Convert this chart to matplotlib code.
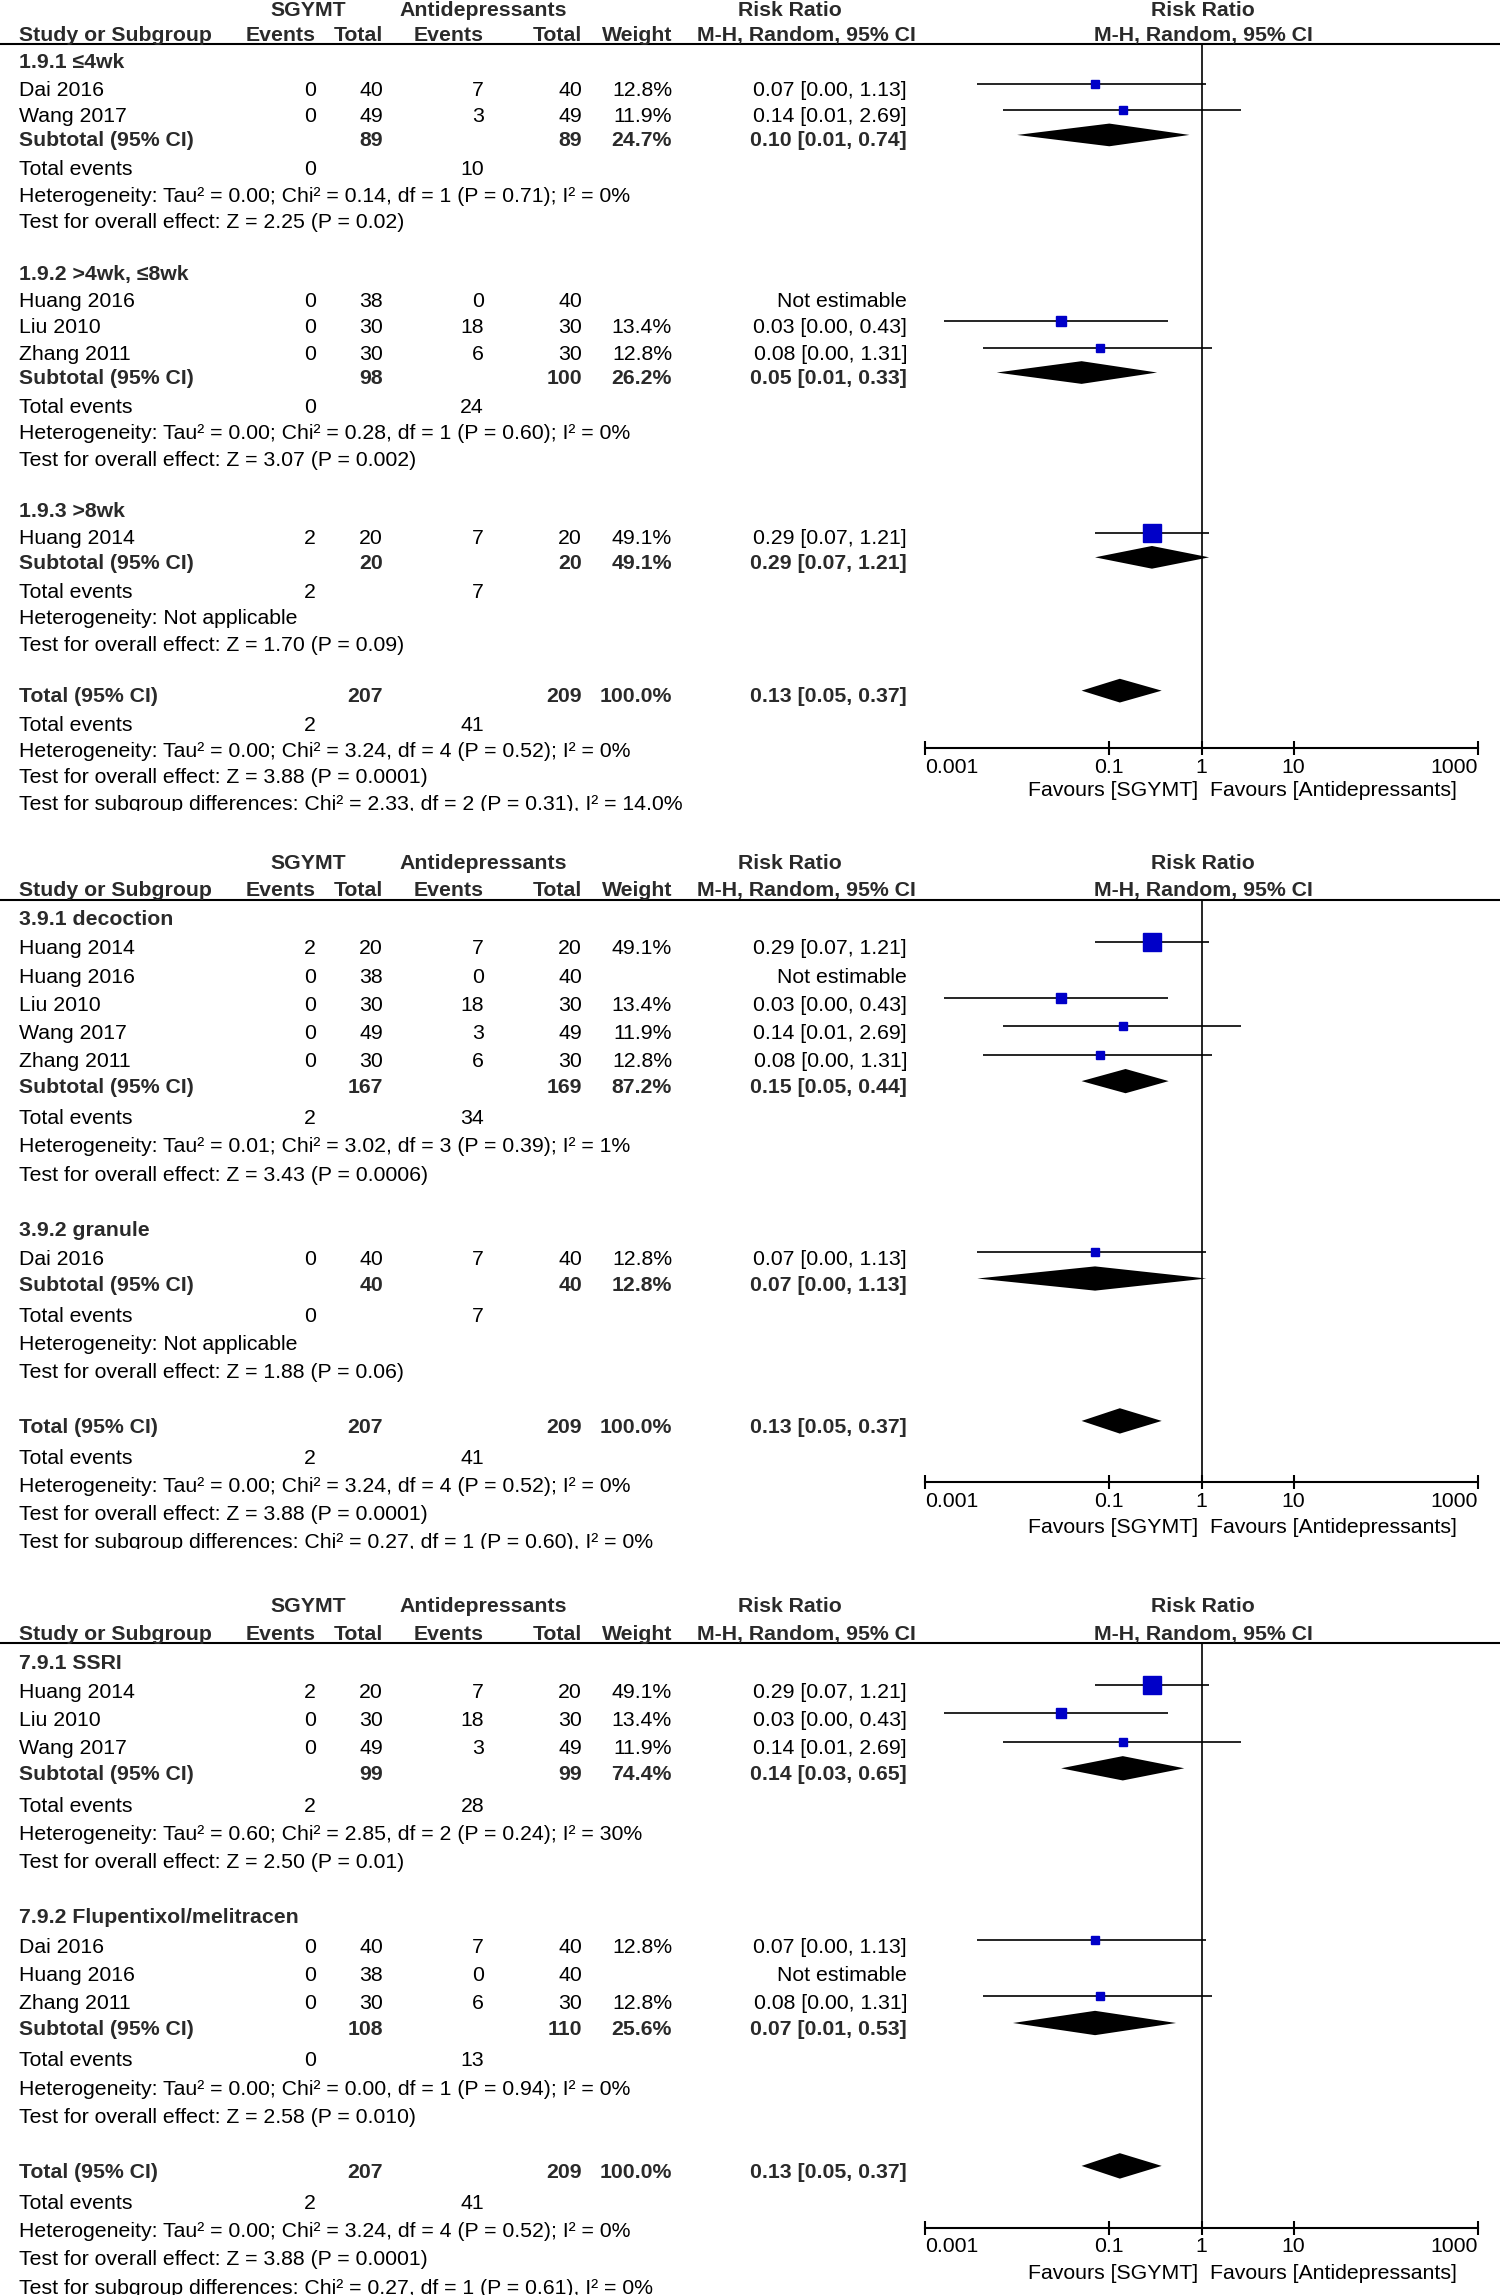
import numpy as np
import matplotlib
matplotlib.use('Agg')
import matplotlib.pyplot as plt

plt.rcParams['font.family'] = ['Liberation Sans', 'DejaVu Sans']

# ---- studies ----
study = ['Dai 2016', 'Huang 2014', 'Huang 2016', 'Liu 2010', 'Wang 2017', 'Zhang 2011']
sg_events = [0, 2, 0, 0, 0, 0]
sg_total = [40, 20, 38, 30, 49, 30]
ad_events = [7, 7, 0, 18, 3, 6]
ad_total = [40, 20, 40, 30, 49, 30]
weight = [12.8, 49.1, None, 13.4, 11.9, 12.8]
rr = [0.07, 0.29, None, 0.03, 0.14, 0.08]
rr_lo = [0.0037, 0.07, None, 0.0016, 0.007, 0.0043]
rr_hi = [1.13, 1.21, None, 0.43, 2.69, 1.31]

# ---- overall pooled ----
total_rr, total_lo, total_hi = 0.13, 0.05, 0.37
total_het = 'Tau² = 0.00; Chi² = 3.24, df = 4 (P = 0.52); I² = 0%'
total_z = 'Z = 3.88 (P = 0.0001)'

# ---- panel 1: duration ----
p1_groups = ['1.9.1 ≤4wk', '1.9.2 >4wk, ≤8wk', '1.9.3 >8wk']
p1_members = [[0, 4], [2, 3, 5], [1]]
p1_rr = [0.10, 0.05, 0.29]
p1_lo = [0.01, 0.006, 0.07]
p1_hi = [0.74, 0.33, 1.21]
p1_het = ['Tau² = 0.00; Chi² = 0.14, df = 1 (P = 0.71); I² = 0%',
          'Tau² = 0.00; Chi² = 0.28, df = 1 (P = 0.60); I² = 0%',
          'Not applicable']
p1_z = ['Z = 2.25 (P = 0.02)', 'Z = 3.07 (P = 0.002)', 'Z = 1.70 (P = 0.09)']
p1_diff = 'Chi² = 2.33, df = 2 (P = 0.31), I² = 14.0%'

# ---- panel 2: formulation ----
p2_groups = ['3.9.1 decoction', '3.9.2 granule']
p2_members = [[1, 2, 3, 4, 5], [0]]
p2_rr = [0.15, 0.07]
p2_lo = [0.05, 0.0037]
p2_hi = [0.44, 1.13]
p2_het = ['Tau² = 0.01; Chi² = 3.02, df = 3 (P = 0.39); I² = 1%', 'Not applicable']
p2_z = ['Z = 3.43 (P = 0.0006)', 'Z = 1.88 (P = 0.06)']
p2_diff = 'Chi² = 0.27, df = 1 (P = 0.60), I² = 0%'

# ---- panel 3: comparator ----
p3_groups = ['7.9.1 SSRI', '7.9.2 Flupentixol/melitracen']
p3_members = [[1, 3, 4], [0, 2, 5]]
p3_rr = [0.14, 0.07]
p3_lo = [0.03, 0.009]
p3_hi = [0.65, 0.53]
p3_het = ['Tau² = 0.60; Chi² = 2.85, df = 2 (P = 0.24); I² = 30%',
          'Tau² = 0.00; Chi² = 0.00, df = 1 (P = 0.94); I² = 0%']
p3_z = ['Z = 2.50 (P = 0.01)', 'Z = 2.58 (P = 0.010)']
p3_diff = 'Chi² = 0.27, df = 1 (P = 0.61), I² = 0%'

axis_ticks = [0.001, 0.1, 1, 10, 1000]
axis_labels = ['0.001', '0.1', '1', '10', '1000']

W, H = 1500, 2295
FS = 15.3
BOLD_C = '#2a2a2a'
SQ_C = '#0000C8'
fig = plt.figure(figsize=(W / 100, H / 100), dpi=100)

# column anchors (px)
X_NAME, X_SGE, X_SGT, X_ADE, X_ADT, X_WT, X_CI = 19, 316, 383, 484, 582, 672, 907
FX0, FX1 = 925, 1478


def px_axes(left, top, width, height):
    return fig.add_axes([left / W, 1 - (top + height) / H, width / W, height / H])


def fmt_ci(a, lo, hi):
    return f'{a:.2f} [{lo:.2f}, {hi:.2f}]'


def draw_panel(ref, pitch, top, clip, groups, members, g_rr, g_lo, g_hi, g_het, g_z, diff):
    ylim = ((clip - ref) / pitch, (top - ref) / pitch)
    tab = px_axes(0, top, W, clip - top)
    tab.set_xlim(0, W)
    tab.set_ylim(*ylim)
    tab.axis('off')
    fo = px_axes(FX0, top, FX1 - FX0, clip - top)
    fo.set_facecolor('none')
    fo.set_xscale('log')
    fo.set_xlim(axis_ticks[0], axis_ticks[-1])
    fo.set_ylim(*ylim)

    def put(x, y, s, ha='left', bold=False):
        tab.text(x, y + 0.25, s, ha=ha, va='baseline', fontsize=FS,
                 fontweight='bold' if bold else 'normal',
                 color=BOLD_C if bold else 'black', clip_on=True)

    def diamond(y, a, lo, hi, h=0.43):
        fo.fill([lo, a, hi, a], [y - 0.18, y - 0.18 - h, y - 0.18, y - 0.18 + h],
                color='black', lw=0)

    # headers
    put(308, 0, 'SGYMT', 'center', True)
    put(483, 0, 'Antidepressants', 'center', True)
    put(790, 0, 'Risk Ratio', 'center', True)
    put(1203, 0, 'Risk Ratio', 'center', True)
    hy = 0.97
    put(X_NAME, hy, 'Study or Subgroup', bold=True)
    for x, s in [(X_SGE, 'Events'), (X_SGT, 'Total'), (X_ADE, 'Events'),
                 (X_ADT, 'Total'), (X_WT, 'Weight')]:
        put(x, hy, s, 'right', True)
    put(806, hy, 'M-H, Random, 95% CI', 'center', True)
    put(1203, hy, 'M-H, Random, 95% CI', 'center', True)
    line_y = 1.33
    tab.axhline(line_y, color='black', lw=1.5)

    y = 2.0
    for g, mem in enumerate(members):
        put(X_NAME, y, groups[g], bold=True)
        y += 1.03
        for k, i in enumerate(mem):
            put(X_NAME, y, study[i])
            put(X_SGE, y, str(sg_events[i]), 'right')
            put(X_SGT, y, str(sg_total[i]), 'right')
            put(X_ADE, y, str(ad_events[i]), 'right')
            put(X_ADT, y, str(ad_total[i]), 'right')
            if rr[i] is None:
                put(X_CI, y, 'Not estimable', 'right')
            else:
                put(X_WT, y, f'{weight[i]:.1f}%', 'right')
                put(X_CI, y, fmt_ci(rr[i], rr_lo[i], rr_hi[i]), 'right')
                fo.hlines(y - 0.2, rr_lo[i], rr_hi[i], color='black', lw=1.2)
                fo.plot(rr[i], y - 0.2, marker='s', ms=1.8 * np.sqrt(weight[i]),
                        color=SQ_C, mec=SQ_C, ls='none')
            y += 1.0 if k < len(mem) - 1 else 0.92
        put(X_NAME, y, 'Subtotal (95% CI)', bold=True)
        put(X_SGT, y, str(sum(sg_total[i] for i in mem)), 'right', True)
        put(X_ADT, y, str(sum(ad_total[i] for i in mem)), 'right', True)
        wsum = sum(weight[i] for i in mem if weight[i] is not None)
        put(X_WT, y, f'{wsum:.1f}%', 'right', True)
        put(X_CI, y, fmt_ci(g_rr[g], g_lo[g], g_hi[g]), 'right', True)
        diamond(y, g_rr[g], g_lo[g], g_hi[g])
        y += 1.1
        put(X_NAME, y, 'Total events')
        put(X_SGE, y, str(sum(sg_events[i] for i in mem)), 'right')
        put(X_ADE, y, str(sum(ad_events[i] for i in mem)), 'right')
        y += 1.0
        put(X_NAME, y, 'Heterogeneity: ' + g_het[g])
        y += 1.0
        put(X_NAME, y, 'Test for overall effect: ' + g_z[g])
        y += 1.95

    put(X_NAME, y, 'Total (95% CI)', bold=True)
    put(X_SGT, y, str(sum(sg_total)), 'right', True)
    put(X_ADT, y, str(sum(ad_total)), 'right', True)
    put(X_WT, y, '100.0%', 'right', True)
    put(X_CI, y, fmt_ci(total_rr, total_lo, total_hi), 'right', True)
    diamond(y, total_rr, total_lo, total_hi, 0.45)
    y += 1.08
    put(X_NAME, y, 'Total events')
    put(X_SGE, y, str(sum(sg_events)), 'right')
    put(X_ADE, y, str(sum(ad_events)), 'right')
    y += 1.0
    put(X_NAME, y, 'Heterogeneity: ' + total_het)
    axis_y = y - 0.08
    y += 1.0
    put(X_NAME, y, 'Test for overall effect: ' + total_z)
    y += 1.0
    put(X_NAME, y, 'Test for subgroup differences: ' + diff)

    # forest axis
    fo.vlines(1, line_y, axis_y, color='black', lw=1.2)
    for s in ['left', 'right', 'top']:
        fo.spines[s].set_visible(False)
    fo.spines['bottom'].set_position(('data', axis_y))
    fo.spines['bottom'].set_linewidth(1.5)
    fo.set_yticks([])
    fo.set_xticks(axis_ticks, axis_labels)
    fo.minorticks_off()
    fo.tick_params(axis='x', direction='inout', length=10, width=1.5, pad=2, labelsize=FS)
    for t, ha in zip(fo.xaxis.get_major_ticks(), ['left', 'center', 'center', 'center', 'right']):
        t.label1.set_horizontalalignment(ha)
    fo.text(0.91, axis_y + 1.55 + 0.25, 'Favours [SGYMT]', ha='right', va='baseline', fontsize=FS)
    fo.text(1.25, axis_y + 1.55 + 0.25, 'Favours [Antidepressants]', ha='left', va='baseline', fontsize=FS)


draw_panel(9, 26.4, 0, 811, p1_groups, p1_members, p1_rr, p1_lo, p1_hi, p1_het, p1_z, p1_diff)
draw_panel(862, 28.2, 845, 1549, p2_groups, p2_members, p2_rr, p2_lo, p2_hi, p2_het, p2_z, p2_diff)
draw_panel(1605, 28.3, 1588, 2295, p3_groups, p3_members, p3_rr, p3_lo, p3_hi, p3_het, p3_z, p3_diff)

fig.savefig('out.png', dpi=100, facecolor='white')
